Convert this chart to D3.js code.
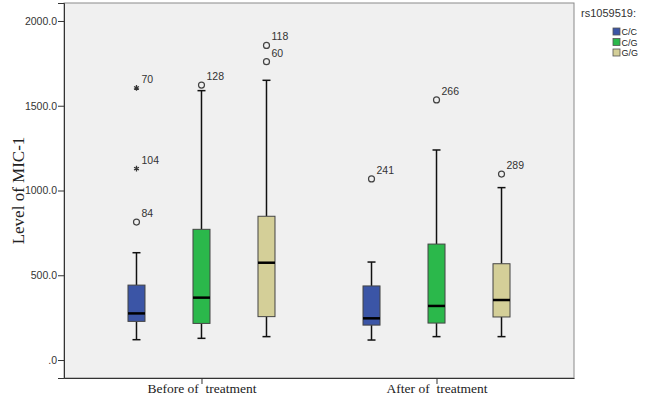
<!DOCTYPE html>
<html>
<head>
<meta charset="utf-8">
<script src="https://cdn.jsdelivr.net/npm/d3@7"></script>
<style>
  body { margin: 0; background: #fff; }
  svg { display: block; }
</style>
</head>
<body>
<div id="chart"></div>
<script>
// Boxplot of MIC-1 level by rs1059519 genotype, before/after treatment

const periods = ['Before of  treatment', 'After of  treatment'];
const genotypes = ['C/C', 'C/G', 'G/G'];
const genoColors = ['#3b55a6', '#2bb84b', '#d4cf98'];
const yTicks = [0, 500, 1000, 1500, 2000];

// [period, genotype, whiskerLow, q1, median, q3, whiskerHigh]
const boxStats = [
    ['Before of  treatment', 'C/C', 120, 228, 275, 442, 633],
    ['Before of  treatment', 'C/G', 128, 216, 368, 771, 1589],
    ['Before of  treatment', 'G/G', 138, 256, 574, 848, 1650],
    ['After of  treatment', 'C/C', 118, 206, 246, 437, 578],
    ['After of  treatment', 'C/G', 138, 218, 319, 684, 1239],
    ['After of  treatment', 'G/G', 138, 254, 354, 568, 1017]
];

// [period, genotype, value, case label, kind]
const outliers = [
    ['Before of  treatment', 'C/C', 1605, '70', 'star'],
    ['Before of  treatment', 'C/C', 1129, '104', 'star'],
    ['Before of  treatment', 'C/C', 814, '84', 'circle'],
    ['Before of  treatment', 'C/G', 1622, '128', 'circle'],
    ['Before of  treatment', 'G/G', 1856, '118', 'circle'],
    ['Before of  treatment', 'G/G', 1760, '60', 'circle'],
    ['After of  treatment', 'C/C', 1068, '241', 'circle'],
    ['After of  treatment', 'C/G', 1534, '266', 'circle'],
    ['After of  treatment', 'G/G', 1097, '289', 'circle']
];

const width = 645, height = 399;
const margin = { top: 3, right: 71, bottom: 21, left: 64 };
const innerWidth = width - margin.left - margin.right;
const innerHeight = height - margin.top - margin.bottom;

const svg = d3.select('#chart').append('svg')
    .attr('width', width)
    .attr('height', height);

const g = svg.append('g')
    .attr('transform', `translate(${margin.left},${margin.top})`);

// Plot background
g.append('rect')
    .attr('width', innerWidth)
    .attr('height', innerHeight)
    .attr('fill', '#f0f0f0')
    .attr('stroke', '#8a8a8a')
    .attr('stroke-width', 1);

// Scales
const x = d3.scalePoint()
    .domain(periods)
    .range([0, innerWidth])
    .padding(0.585);

const xOff = d3.scalePoint()
    .domain(genotypes)
    .range([-65, 65]);

const y = d3.scaleLinear()
    .domain([-106, 2106])
    .range([innerHeight, 0]);

const color = d3.scaleOrdinal().domain(genotypes).range(genoColors);

// Axes
const yAxis = g.append('g')
    .attr('class', 'axis y-axis')
    .call(d3.axisLeft(y).tickValues(yTicks).tickSize(6).tickFormat(d => d === 0 ? '.0' : d3.format('.1f')(d)));
yAxis.select('.domain').attr('stroke', '#333');
yAxis.selectAll('.tick line').attr('stroke', '#333');
yAxis.selectAll('.tick text')
    .attr('font-family', 'Liberation Sans, Arial, sans-serif')
    .attr('font-size', '10.5px')
    .attr('fill', '#333')
    .attr('x', -7);

const xAxis = g.append('g')
    .attr('class', 'axis x-axis')
    .attr('transform', `translate(0,${innerHeight})`)
    .call(d3.axisBottom(x).tickSize(6).tickSizeOuter(0));
xAxis.select('.domain').attr('stroke', '#333');
xAxis.selectAll('.tick line').attr('stroke', '#333');
xAxis.selectAll('.tick text')
    .attr('font-family', 'Liberation Serif, Times New Roman, serif')
    .attr('font-size', '13.5px')
    .attr('fill', '#222')
    .attr('y', 5)
    .style('white-space', 'pre');

// Y-axis label
svg.append('text')
    .attr('transform', 'rotate(-90)')
    .attr('x', -(margin.top + innerHeight / 2))
    .attr('y', 24)
    .attr('text-anchor', 'middle')
    .attr('font-family', 'Liberation Serif, Times New Roman, serif')
    .attr('font-size', '17px')
    .attr('fill', '#222')
    .text('Level of MIC-1');

// Boxes
const boxW = 17, capW = 8;
boxStats.forEach(([period, geno, lo, q1, med, q3, hi]) => {
    const cx = x(period) + xOff(geno);
    const bg = g.append('g');

    bg.append('line')
        .attr('x1', cx).attr('x2', cx)
        .attr('y1', y(hi)).attr('y2', y(q3))
        .attr('stroke', '#111').attr('stroke-width', 1.5);
    bg.append('line')
        .attr('x1', cx).attr('x2', cx)
        .attr('y1', y(q1)).attr('y2', y(lo))
        .attr('stroke', '#111').attr('stroke-width', 1.5);
    [hi, lo].forEach(v => {
        bg.append('line')
            .attr('x1', cx - capW / 2).attr('x2', cx + capW / 2)
            .attr('y1', y(v)).attr('y2', y(v))
            .attr('stroke', '#111').attr('stroke-width', 1.5);
    });

    bg.append('rect')
        .attr('x', cx - boxW / 2)
        .attr('y', y(q3))
        .attr('width', boxW)
        .attr('height', y(q1) - y(q3))
        .attr('fill', color(geno))
        .attr('stroke', '#444')
        .attr('stroke-width', 1);

    bg.append('line')
        .attr('x1', cx - boxW / 2).attr('x2', cx + boxW / 2)
        .attr('y1', y(med)).attr('y2', y(med))
        .attr('stroke', '#000').attr('stroke-width', 2.5);
});

// Outliers
const star = d3.symbol().type(d3.symbolAsterisk).size(22);
outliers.forEach(([period, geno, v, label, kind]) => {
    const cx = x(period) + xOff(geno);
    const cy = y(v);
    if (kind === 'star') {
        g.append('path')
            .attr('transform', `translate(${cx},${cy})`)
            .attr('d', star())
            .attr('fill', 'none')
            .attr('stroke', '#333')
            .attr('stroke-width', 1.3);
    } else {
        g.append('circle')
            .attr('cx', cx).attr('cy', cy)
            .attr('r', 3)
            .attr('fill', 'none')
            .attr('stroke', '#444')
            .attr('stroke-width', 1.2);
    }
    g.append('text')
        .attr('x', cx + 5)
        .attr('y', cy - 5)
        .attr('font-family', 'Liberation Sans, Arial, sans-serif')
        .attr('font-size', '10.5px')
        .attr('fill', '#333')
        .text(label);
});

// Legend
const legend = svg.append('g')
    .attr('transform', `translate(${width - margin.right + 7}, 0)`);

legend.append('text')
    .attr('x', 0)
    .attr('y', 17)
    .attr('font-family', 'Liberation Sans, Arial, sans-serif')
    .attr('font-size', '11px')
    .attr('fill', '#333')
    .text('rs1059519:');

genotypes.forEach((geno, i) => {
    const row = legend.append('g')
        .attr('transform', `translate(32, ${28 + i * 10.5})`);
    row.append('rect')
        .attr('width', 7).attr('height', 7)
        .attr('fill', color(geno))
        .attr('stroke', '#555')
        .attr('stroke-width', 0.8);
    row.append('text')
        .attr('x', 8.5)
        .attr('y', 7)
        .attr('font-family', 'Liberation Sans, Arial, sans-serif')
        .attr('font-size', '9px')
        .attr('fill', '#222')
        .text(geno);
});
</script>
</body>
</html>
